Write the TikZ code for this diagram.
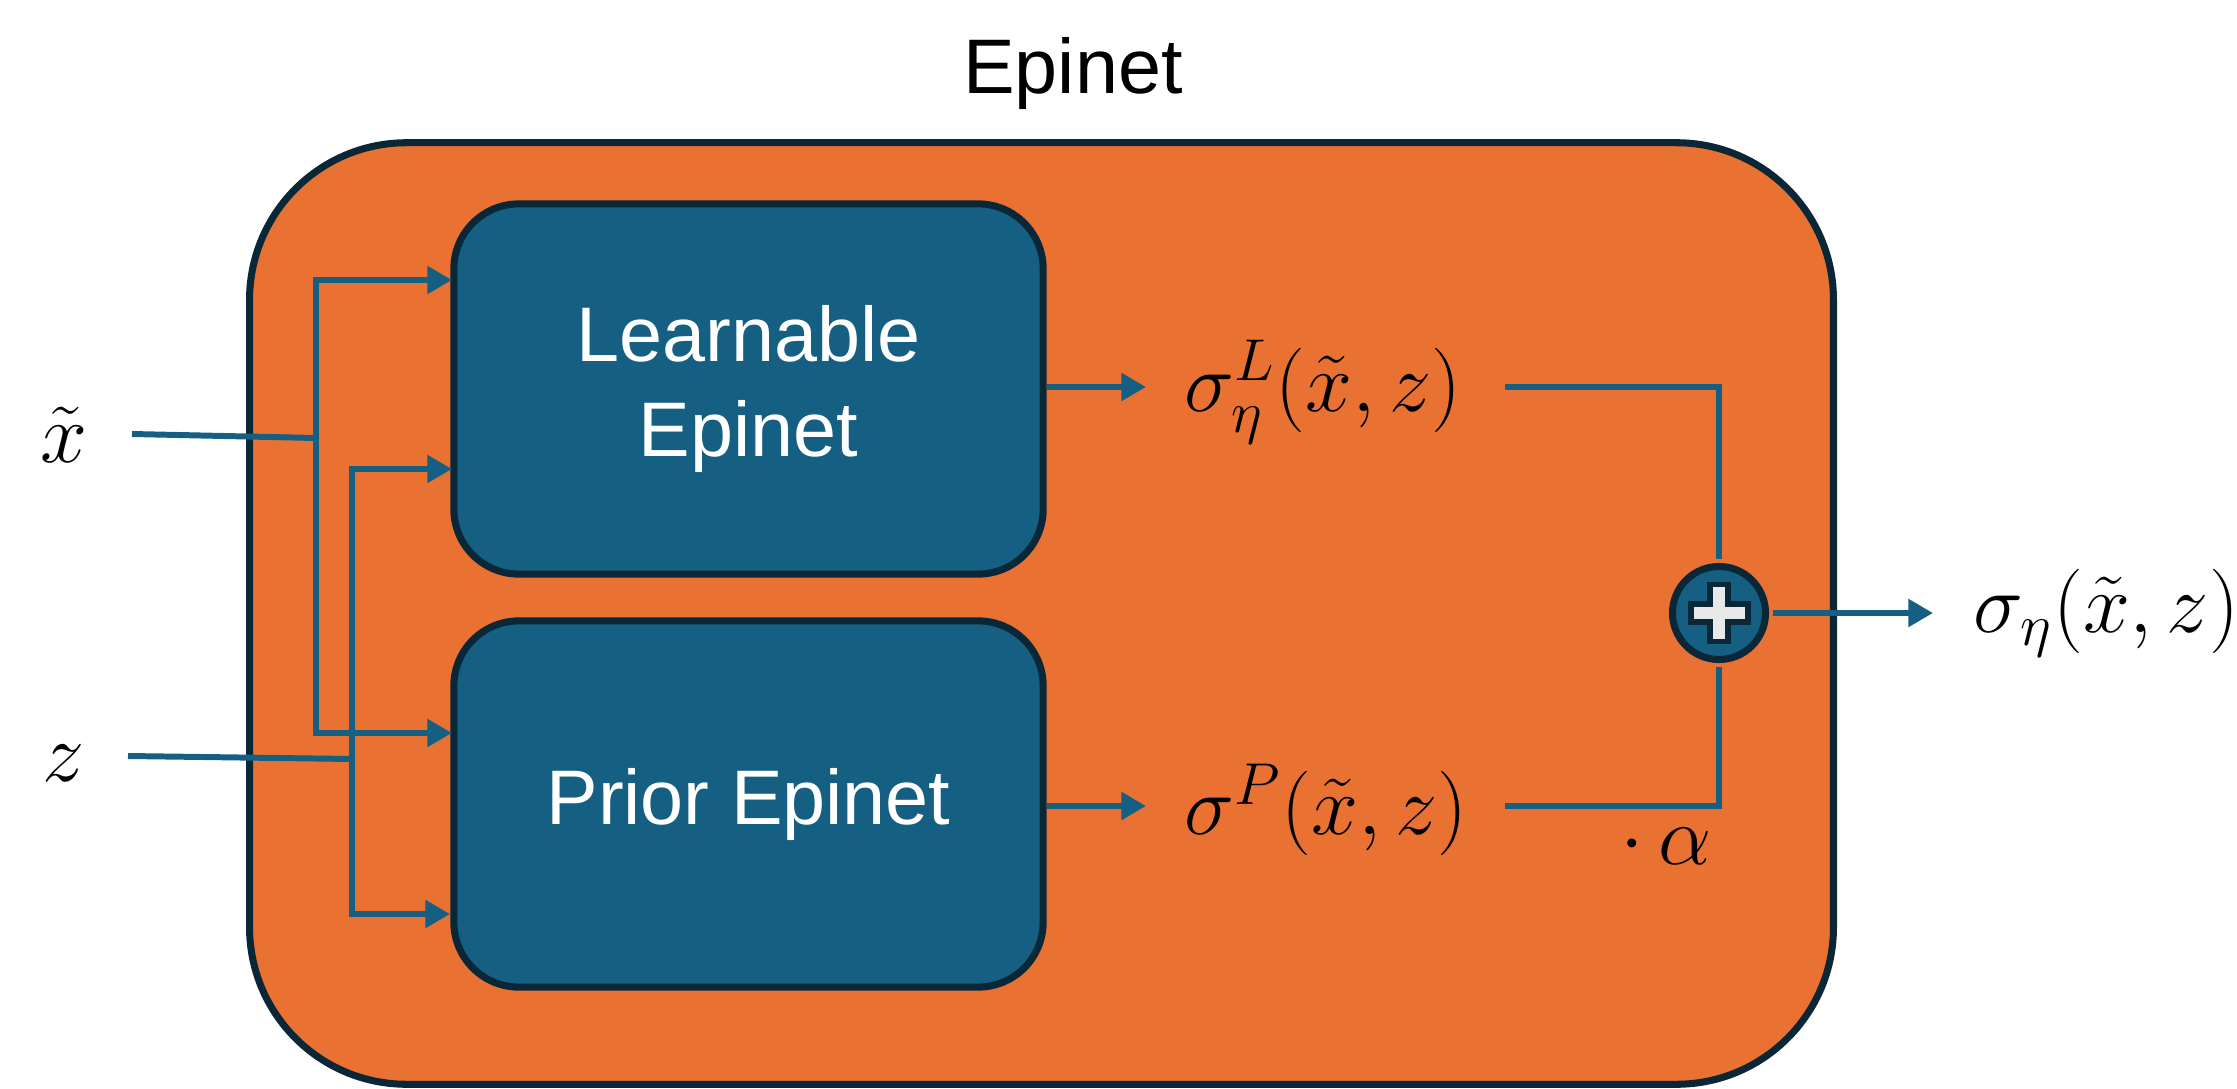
\RequirePackage{fix-cm}
\documentclass[tikz,border=0pt]{standalone}
\usepackage{fontspec}
\setmainfont{Liberation Sans}
\usetikzlibrary{arrows.meta}
\definecolor{orng}{HTML}{E97132}
\definecolor{blu}{HTML}{156082}
\definecolor{dk}{HTML}{0A2738}
\definecolor{crs}{HTML}{E8E8E8}
\begin{document}
\begin{tikzpicture}[x=0.01cm,y=-0.01cm,
  outer/.style={draw=dk, fill=orng, line width=2pt, rounded corners=1.57cm, minimum width=15.83cm, minimum height=9.41cm, inner sep=0pt},
  blk/.style={draw=dk, fill=blu, line width=2pt, rounded corners=0.65cm, minimum width=5.89cm, inner sep=0pt, text=white, font=\fontsize{22}{27}\selectfont, align=center},
  conn/.style={draw=blu, line width=1.7pt},
  arr/.style={conn, -{Triangle[length=7pt,width=7.6pt]}},
  mth/.style={inner sep=0pt, font=\fontsize{24}{28}\selectfont},
  addnode/.style={circle, draw=dk, fill=blu, line width=2pt, minimum size=0.93cm, inner sep=0pt}]
\useasboundingbox (0,0) rectangle (2237,1088);
\node[outer] (box) at (1041.5,613.5) {};
\node[font=\fontsize{22}{26}\selectfont, inner sep=0pt] (title) at (1073,74) {Epinet};
\node[blk, minimum height=3.70cm] (L) at (748.5,389) {Learnable\\Epinet};
\node[blk, minimum height=3.66cm] (P) at (748.5,804) {Prior Epinet};
% inputs
\node[mth] (xt) at (64,435) {$\tilde{x}$};
\node[mth] (zt) at (64,763) {$z$};
\coordinate (xs) at (132,434);
\coordinate (xj) at (316,438);
\coordinate (zs) at (128,756);
\coordinate (zj) at (352,759);
\coordinate (Lin1) at (452,280);
\coordinate (Lin2) at (452,469);
\coordinate (Pin1) at (452,733);
\coordinate (Pin2) at (450,914);
\draw[conn] (xs) -- (xj);
\draw[arr] (xj) |- (Lin1);
\draw[arr] (xj) |- (Pin1);
\draw[conn] (zs) -- (zj);
\draw[arr] (zj) |- (Lin2);
\draw[arr] (zj) |- (Pin2);
% outputs
\node[mth, anchor=west] (sL) at (1184,392) {$\sigma_\eta^L(\tilde{x},z)$};
\node[mth, anchor=west] (sP) at (1184,810) {$\sigma^P(\tilde{x},z)$};
\node[mth, anchor=west] (sO) at (1973,613) {$\sigma_\eta(\tilde{x},z)$};
\node[mth] (al) at (1666,846) {$\cdot\,\alpha$};
\node[addnode] (plus) at (1719,613) {};
\coordinate (Lo) at (1146,387);
\coordinate (Po) at (1146,806);
\coordinate (Ls) at (1505,387);
\coordinate (Ps) at (1505,806);
\coordinate (Oo) at (1933,613);
\draw[arr] (L.east |- Lo) -- (Lo);
\draw[arr] (P.east |- Po) -- (Po);
\draw[conn, shorten >=1pt] (Ls) -| (plus.north);
\draw[conn, shorten >=1pt] (Ps) -| (plus.south);
\draw[arr, shorten <=1pt] (plus.east) -- (Oo);
\draw[draw=dk, fill=crs, line width=1.7pt, line join=miter] (plus.center) ++(-9,-28.5) -- ++(18,0) -- ++(0,19.5) -- ++(19.5,0) -- ++(0,18) -- ++(-19.5,0) -- ++(0,19.5) -- ++(-18,0) -- ++(0,-19.5) -- ++(-19.5,0) -- ++(0,-18) -- ++(19.5,0) -- cycle;
\end{tikzpicture}
\end{document}
